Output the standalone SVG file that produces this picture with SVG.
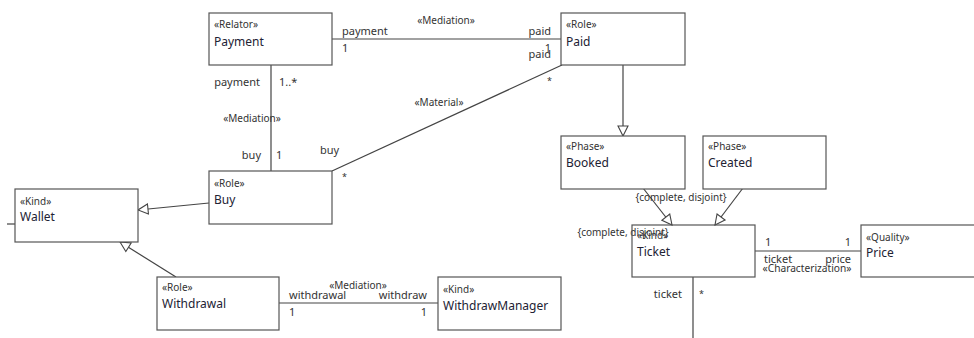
<svg xmlns="http://www.w3.org/2000/svg" width="974" height="338" viewBox="0 0 974 338">
  <style>
    .box { fill: #ffffff; stroke: #555555; stroke-width: 1.2; }
    .st { font-family: "Noto Sans", "Open Sans", sans-serif; font-size: 10px; fill: #333333; }
    .nm { font-family: "Noto Sans", "Open Sans", sans-serif; font-size: 12px; fill: #222233; }
    .lb { font-family: "Noto Sans", "Open Sans", sans-serif; font-size: 11px; fill: #333333; }
    .ast { font-family: "Noto Sans", "Open Sans", sans-serif; font-size: 9px; fill: #333333; }
    .ln { fill: none; stroke: #444444; stroke-width: 1.2; }
    .gen { fill: none; stroke: #444444; stroke-width: 1.2; marker-end: url(#tri); }
  </style>
  <defs>
    <marker id="tri" viewBox="0 0 12 12" refX="11" refY="6" markerWidth="12" markerHeight="12" markerUnits="userSpaceOnUse" orient="auto">
      <path d="M1,1 L11,6 L1,11 Z" fill="#ffffff" stroke="#444444" stroke-width="1.1"/>
    </marker>
  </defs>

  <!-- connectors -->
  <g id="connectors">
    <!-- Payment - Paid mediation -->
    <line class="ln" x1="332" y1="39" x2="561" y2="39"/>
    <text class="st" x="446" y="24" text-anchor="middle">«Mediation»</text>
    <text class="lb" x="342" y="35">payment</text>
    <text class="lb" x="342" y="52">1</text>
    <text class="lb" x="551" y="35" text-anchor="end">paid</text>
    <text class="lb" x="551" y="52" text-anchor="end">1</text>

    <!-- Payment - Buy mediation -->
    <line class="ln" x1="271" y1="65" x2="271" y2="171"/>
    <text class="lb" x="260" y="86" text-anchor="end">payment</text>
    <text class="lb" x="279" y="86">1..*</text>
    <text class="st" x="252" y="122" text-anchor="middle">«Mediation»</text>
    <text class="lb" x="261" y="159" text-anchor="end">buy</text>
    <text class="lb" x="276" y="159">1</text>

    <!-- Buy - Paid material -->
    <line class="ln" x1="332" y1="171" x2="562" y2="65"/>
    <text class="st" x="439" y="106" text-anchor="middle">«Material»</text>
    <text class="lb" x="320" y="154">buy</text>
    <text class="ast" x="342" y="180">*</text>
    <text class="lb" x="551" y="58" text-anchor="end">paid</text>
    <text class="ast" x="547" y="84">*</text>

    <!-- Paid specialises Booked -->
    <line class="gen" x1="623" y1="65" x2="623" y2="136"/>

    <!-- Buy -> Wallet, Withdrawal -> Wallet -->
    <line class="gen" x1="209" y1="203" x2="138" y2="210"/>
    <line class="gen" x1="176" y1="277" x2="120" y2="242"/>
    <line class="ln" x1="7" y1="224" x2="15" y2="224"/>

    <!-- Withdrawal - WithdrawManager mediation -->
    <line class="ln" x1="279" y1="303" x2="438" y2="303"/>
    <text class="st" x="358" y="289" text-anchor="middle">«Mediation»</text>
    <text class="lb" x="289" y="299">withdrawal</text>
    <text class="lb" x="427" y="299" text-anchor="end">withdraw</text>
    <text class="lb" x="289" y="316">1</text>
    <text class="lb" x="427" y="316" text-anchor="end">1</text>

    <!-- Booked, Created -> Ticket -->
    <line class="gen" x1="643" y1="188" x2="672" y2="225"/>
    <line class="gen" x1="743" y1="188" x2="715" y2="225"/>
    <text class="st" x="681" y="201" text-anchor="middle">{complete, disjoint}</text>
    <text class="st" x="623" y="236" text-anchor="middle">{complete, disjoint}</text>

    <!-- Ticket - Price characterization -->
    <line class="ln" x1="755" y1="251" x2="861" y2="251"/>
    <text class="lb" x="765" y="246">1</text>
    <text class="lb" x="851" y="246" text-anchor="end">1</text>
    <text class="lb" x="764" y="263">ticket</text>
    <text class="lb" x="851" y="263" text-anchor="end">price</text>
    <text class="st" x="807" y="272" text-anchor="middle" textLength="89" lengthAdjust="spacingAndGlyphs">«Characterization»</text>

    <!-- Ticket downward association -->
    <line class="ln" x1="693" y1="277" x2="693" y2="338"/>
    <text class="lb" x="682" y="298" text-anchor="end">ticket</text>
    <text class="ast" x="699" y="297">*</text>
  </g>

  <g id="payment">
    <rect class="box" x="209" y="13" width="123" height="52"/>
    <text class="st" x="214" y="28">«Relator»</text>
    <text class="nm" x="214" y="46">Payment</text>
  </g>
  <g id="paid">
    <rect class="box" x="561" y="13" width="124" height="52"/>
    <text class="st" x="566" y="28">«Role»</text>
    <text class="nm" x="566" y="46">Paid</text>
  </g>
  <g id="buy">
    <rect class="box" x="209" y="171" width="123" height="53"/>
    <text class="st" x="214" y="187">«Role»</text>
    <text class="nm" x="214" y="204">Buy</text>
  </g>
  <g id="wallet">
    <rect class="box" x="15" y="189" width="123" height="53"/>
    <text class="st" x="20" y="205">«Kind»</text>
    <text class="nm" x="20" y="221">Wallet</text>
  </g>
  <g id="withdrawal">
    <rect class="box" x="157" y="277" width="122" height="53"/>
    <text class="st" x="162" y="291">«Role»</text>
    <text class="nm" x="162" y="308">Withdrawal</text>
  </g>
  <g id="withdrawmanager">
    <rect class="box" x="438" y="277" width="123" height="53"/>
    <text class="st" x="443" y="293">«Kind»</text>
    <text class="nm" x="443" y="310">WithdrawManager</text>
  </g>
  <g id="booked">
    <rect class="box" x="561" y="136" width="124" height="53"/>
    <text class="st" x="566" y="150">«Phase»</text>
    <text class="nm" x="566" y="167">Booked</text>
  </g>
  <g id="created">
    <rect class="box" x="703" y="136" width="123" height="53"/>
    <text class="st" x="708" y="150">«Phase»</text>
    <text class="nm" x="708" y="167">Created</text>
  </g>
  <g id="ticket">
    <rect class="box" x="632" y="225" width="123" height="52" style="fill:none"/>
    <text class="st" x="637" y="239">«Kind»</text>
    <text class="nm" x="637" y="256">Ticket</text>
  </g>
  <g id="price">
    <rect class="box" x="861" y="225" width="123" height="52"/>
    <text class="st" x="866" y="241">«Quality»</text>
    <text class="nm" x="866" y="257">Price</text>
  </g>
</svg>
